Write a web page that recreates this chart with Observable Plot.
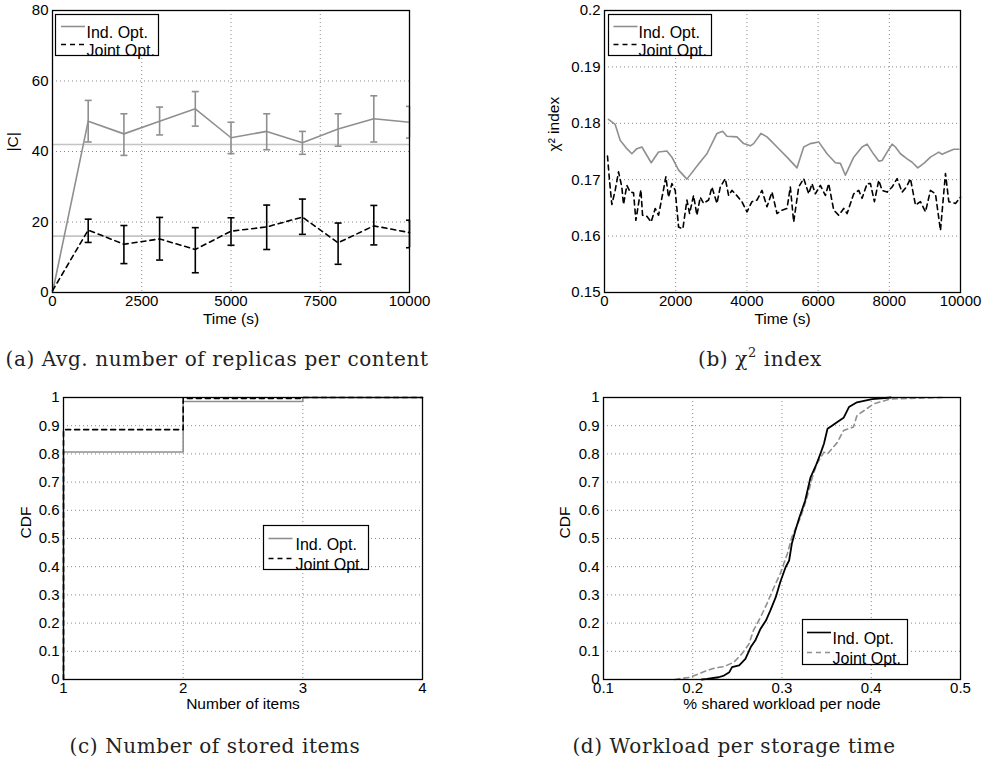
<!DOCTYPE html>
<html><head><meta charset="utf-8">
<script src="https://cdn.jsdelivr.net/npm/d3@7"></script>
<script src="https://cdn.jsdelivr.net/npm/@observablehq/plot@0.6"></script>
<style>
body{margin:0;background:#fff;}
#fig{position:relative;width:985px;height:764px;overflow:hidden;background:#fff}
.panel{position:absolute}
.cap{position:absolute;font-family:"DejaVu Serif",serif;font-size:20px;letter-spacing:0.6px;color:#222;white-space:nowrap;transform:translate(-50%,-50%)}
.cap sup{font-size:13px;vertical-align:9px;line-height:0}
</style></head><body><div id="fig"></div>
<script>
// ---------- DATA ----------
const seriesNames = ["Ind. Opt.", "Joint Opt."];
// (a) Avg. number of replicas per content
const timeA = [0,1000,2000,3000,4000,5000,6000,7000,8000,9000,10000];
const indA = [0,48.6,45.0,48.6,52.1,43.9,45.7,42.5,46.4,49.3,48.3];
const jointA = [0.5,17.7,13.7,15.2,12.2,17.4,18.6,21.4,14.1,18.9,17.0];
const errTimeA = [1000,2000,3000,4000,5000,6000,7000,8000,9000,10000];
const indLoA = [42.7,38.9,44.7,47.2,39.4,40.5,39.2,41.5,42.7,43.8];
const indHiA = [54.5,50.7,52.6,57.0,48.3,50.7,45.7,50.7,55.8,52.8];
const jointLoA = [14.2,8.2,9.2,5.6,13.4,12.2,16.5,8.0,13.5,12.7];
const jointHiA = [20.8,19.0,21.3,18.4,21.2,24.8,26.5,19.7,24.7,20.5];
const refLevelsA = [42.0,16.0];
const xTicksA = [0,2500,5000,7500,10000];
const yTicksA = [0,20,40,60,80];
// (b) chi^2 index
const indBT = [112,300,440,628,768,909,1050,1312,1518,1752,1893,2081,2315,2643,2877,3065,3158,3318,3439,3720,3908,4096,4189,4395,4564,4705,4845,5126,5408,5595,5782,6017,6251,6485,6626,6767,7001,7235,7376,7563,7704,7797,7938,8079,8172,8313,8500,8641,8800,8969,9156,9391,9484,9625,9812,9953];
const indBV = [0.1807,0.1798,0.1770,0.1755,0.1746,0.1755,0.1758,0.1730,0.1749,0.1751,0.1740,0.1717,0.1701,0.1728,0.1746,0.1770,0.1782,0.1786,0.1777,0.1776,0.1764,0.1760,0.1764,0.1782,0.1776,0.1767,0.1758,0.1740,0.1721,0.1758,0.1764,0.1767,0.1746,0.1730,0.1729,0.1708,0.1740,0.1758,0.1763,0.1745,0.1733,0.1734,0.1749,0.1763,0.1758,0.1746,0.1737,0.1731,0.1721,0.1729,0.1740,0.1749,0.1745,0.1749,0.1754,0.1754];
const jointBT = [84,140,206,300,394,487,534,628,722,815,881,975,1022,1069,1190,1312,1424,1518,1659,1724,1799,1893,1987,2081,2202,2315,2390,2502,2596,2690,2783,2924,3018,3158,3252,3393,3486,3580,3674,3861,4002,4142,4283,4424,4564,4705,4845,4986,5126,5220,5314,5455,5595,5736,5829,5923,6064,6204,6298,6439,6579,6720,6814,7001,7142,7235,7376,7470,7582,7704,7797,7938,8079,8219,8360,8482,8594,8735,8875,9016,9156,9297,9437,9578,9672,9859,10000];
const jointBV = [0.1742,0.1699,0.1656,0.1681,0.1714,0.1687,0.1656,0.1690,0.1678,0.1677,0.1628,0.1665,0.1682,0.1637,0.1635,0.1625,0.1649,0.1637,0.1683,0.1705,0.1669,0.1693,0.1681,0.1616,0.1613,0.1664,0.1640,0.1672,0.1637,0.1669,0.1658,0.1664,0.1687,0.1658,0.1687,0.1702,0.1672,0.1681,0.1675,0.1661,0.1643,0.1661,0.1664,0.1681,0.1652,0.1678,0.1640,0.1646,0.1649,0.1687,0.1625,0.1687,0.1702,0.1675,0.1693,0.1675,0.1690,0.1672,0.1693,0.1646,0.1637,0.1649,0.1640,0.1675,0.1681,0.1667,0.1693,0.1693,0.1661,0.1699,0.1681,0.1678,0.1687,0.1702,0.1678,0.1687,0.1702,0.1655,0.1661,0.1643,0.1681,0.1675,0.1610,0.1711,0.1661,0.1658,0.1669];
const xTicksB = [0,2000,4000,6000,8000,10000];
const yTicksB = [0.15,0.16,0.17,0.18,0.19,0.2];
// (c) Number of stored items (CDF)
const itemsC = [1,1,2,3,4];
const indC = [0,0.807,0.986,1,1];
const jointC = [0,0.886,0.997,1,1];
const xTicksC = [1,2,3,4];
const yTicksCDF = [0,0.1,0.2,0.3,0.4,0.5,0.6,0.7,0.8,0.9,1];
// (d) Workload per storage time (CDF)
const indDX = [0.21,0.216,0.229,0.235,0.241,0.244,0.252,0.259,0.265,0.270,0.276,0.282,0.287,0.293,0.298,0.304,0.308,0.311,0.315,0.319,0.326,0.332,0.338,0.343,0.347,0.351,0.356,0.360,0.369,0.375,0.384,0.401,0.422];
const indDY = [0,0.002,0.008,0.014,0.026,0.044,0.050,0.073,0.115,0.138,0.180,0.209,0.245,0.292,0.345,0.398,0.422,0.481,0.528,0.570,0.635,0.717,0.759,0.800,0.836,0.889,0.900,0.909,0.928,0.966,0.983,0.994,1.0];
const jointDX = [0.18,0.183,0.197,0.205,0.216,0.224,0.235,0.246,0.255,0.263,0.268,0.276,0.283,0.291,0.298,0.306,0.311,0.321,0.328,0.334,0.339,0.347,0.351,0.362,0.369,0.380,0.384,0.403,0.422,0.481];
const jointDY = [0,0.002,0.008,0.018,0.032,0.040,0.046,0.061,0.091,0.126,0.174,0.221,0.268,0.327,0.375,0.446,0.505,0.576,0.646,0.717,0.765,0.806,0.800,0.841,0.883,0.895,0.936,0.978,0.995,1.0];
const xTicksD = [0.1,0.2,0.3,0.4,0.5];

const axisLabels = {a: ["Time (s)", "|C|"], b: ["Time (s)", "χ² index"], c: ["Number of items", "CDF"], d: ["% shared workload per node", "CDF"]};
const captions = {a: "(a) Avg. number of replicas per content", b: "(b) χ<sup>2</sup> index", c: "(c) Number of stored items", d: "(d) Workload per storage time"};

// ---------- HELPERS ----------
const FONT = "Liberation Sans, Arial, Helvetica, sans-serif";
const GRAY = "#8f8f8f";
const DASH = "5,4";
const FS = 15;
const lineSym = {draw(ctx, size){ const r = Math.sqrt(size/Math.PI); ctx.moveTo(-r,0); ctx.lineTo(r,0); }};
const zip = (xs, ys) => xs.map((x,i) => ({x, y: ys[i]}));
const fig = document.getElementById("fig");
const fmt = d => String(d);

function gridMarks(xt, yt) {
  const g = {stroke: "#8a8a8a", strokeDasharray: "1,3", strokeWidth: 1};
  return [Plot.ruleX(xt, g), Plot.ruleY(yt, g)];
}
function axes(xt, yt, xpad) {
  return [
    Plot.axisX(xt, {tickSize: 0, tickPadding: xpad, tickFormat: fmt, fontSize: FS, label: null, fill: "black"}),
    Plot.axisY(yt, {tickSize: 0, tickPadding: 4, tickFormat: fmt, fontSize: FS, label: null, fill: "black"})
  ];
}
function legend(ins, rows) {
  const m = [Plot.frame({fill: "white", stroke: "black", strokeWidth: 1.2, ...ins})];
  rows.forEach(r => {
    m.push(Plot.dot([0], {frameAnchor: "top-left", dx: r.sx, dy: r.dy, symbol: lineSym, r: 12, fill: "none", stroke: r.stroke, strokeWidth: 1.6, strokeDasharray: r.dash}));
    m.push(Plot.text([r.label], {frameAnchor: "top-left", dx: r.tx, dy: r.dy, text: d => d, textAnchor: "start", fontSize: 16, fill: "black"}));
  });
  return m;
}
function axisTitles(lbl, xdy, ydx) {
  return [
    Plot.text([lbl[0]], {frameAnchor: "bottom", dy: xdy, text: d => d, fontSize: 15.5, fill: "black"}),
    Plot.text([lbl[1]], {frameAnchor: "left", dx: ydx, rotate: -90, text: d => d, fontSize: 15.5, fill: "black"})
  ];
}
function place(svg, left, top) {
  const d = document.createElement("div");
  d.className = "panel"; d.style.left = left + "px"; d.style.top = top + "px";
  d.appendChild(svg); fig.appendChild(d);
}
function caption(html, cx, cy) {
  const d = document.createElement("div");
  d.className = "cap"; d.innerHTML = html; d.style.left = cx + "px"; d.style.top = cy + "px";
  fig.appendChild(d);
}
const baseStyle = {fontFamily: FONT, fontSize: "15px", color: "black", background: "transparent", overflow: "visible"};

// ---------- (a) ----------
const lineIndA = zip(timeA, indA), lineJointA = zip(timeA, jointA);
const errIndA = errTimeA.map((t,i) => ({t, lo: indLoA[i], hi: indHiA[i]}));
const errJointA = errTimeA.map((t,i) => ({t, lo: jointLoA[i], hi: jointHiA[i]}));
const pa = Plot.plot({
  width: 480, height: 335, marginLeft: 52, marginRight: 71, marginTop: 10, marginBottom: 43,
  style: baseStyle,
  x: {domain: [0,10000]},
  y: {domain: [0,80]},
  marks: [
    ...gridMarks(xTicksA, yTicksA),
    ...axes(xTicksA, yTicksA, 3),
    Plot.ruleY(refLevelsA, {stroke: "#c4c4c4", strokeWidth: 1.6}),
    Plot.line(lineIndA, {x: "x", y: "y", stroke: GRAY, strokeWidth: 1.6}),
    Plot.ruleX(errIndA, {x: "t", y1: "lo", y2: "hi", stroke: GRAY, strokeWidth: 1.6}),
    Plot.dot(errIndA, {x: "t", y: "lo", symbol: lineSym, r: 3.5, fill: "none", stroke: GRAY, strokeWidth: 1.6, clip: true}),
    Plot.dot(errIndA, {x: "t", y: "hi", symbol: lineSym, r: 3.5, fill: "none", stroke: GRAY, strokeWidth: 1.6, clip: true}),
    Plot.line(lineJointA, {x: "x", y: "y", stroke: "black", strokeWidth: 1.6, strokeDasharray: DASH}),
    Plot.ruleX(errJointA, {x: "t", y1: "lo", y2: "hi", stroke: "black", strokeWidth: 1.6}),
    Plot.dot(errJointA, {x: "t", y: "lo", symbol: lineSym, r: 3.5, fill: "none", stroke: "black", strokeWidth: 1.6, clip: true}),
    Plot.dot(errJointA, {x: "t", y: "hi", symbol: lineSym, r: 3.5, fill: "none", stroke: "black", strokeWidth: 1.6, clip: true}),
    ...legend({insetLeft: 3, insetTop: 4, insetRight: 251, insetBottom: 237}, [
      {label: seriesNames[0], stroke: GRAY, dash: null, sx: 20.5, tx: 34, dy: 16},
      {label: seriesNames[1], stroke: "black", dash: DASH, sx: 20.5, tx: 34, dy: 34}
    ]),
    ...axisTitles(axisLabels.a, 31, -39),
    Plot.frame({stroke: "black", strokeWidth: 1.3})
  ]
});
place(pa, 0, 0);

// ---------- (b) ----------
const pb = Plot.plot({
  width: 495, height: 335, marginLeft: 114, marginRight: 25, marginTop: 10, marginBottom: 43,
  style: baseStyle,
  x: {domain: [0,10000]},
  y: {domain: [0.15,0.2]},
  marks: [
    ...gridMarks(xTicksB, yTicksB),
    ...axes(xTicksB, yTicksB, 3),
    Plot.line(zip(indBT, indBV), {x: "x", y: "y", stroke: GRAY, strokeWidth: 1.6}),
    Plot.line(zip(jointBT, jointBV), {x: "x", y: "y", stroke: "black", strokeWidth: 1.6, strokeDasharray: DASH}),
    ...legend({insetLeft: 4, insetTop: 4, insetRight: 249, insetBottom: 237}, [
      {label: seriesNames[0], stroke: GRAY, dash: null, sx: 21, tx: 34, dy: 16},
      {label: seriesNames[1], stroke: "black", dash: DASH, sx: 21, tx: 34, dy: 34}
    ]),
    ...axisTitles(axisLabels.b, 31, -50),
    Plot.frame({stroke: "black", strokeWidth: 1.3})
  ]
});
place(pb, 490, 0);

// ---------- (c) ----------
const pc = Plot.plot({
  width: 480, height: 340, marginLeft: 63, marginRight: 58, marginTop: 17, marginBottom: 41,
  style: baseStyle,
  x: {domain: [1,4]},
  y: {domain: [0,1]},
  marks: [
    ...gridMarks(xTicksC, yTicksCDF),
    ...axes(xTicksC, yTicksCDF, 3),
    Plot.line(zip(itemsC, indC), {x: "x", y: "y", curve: "step-after", stroke: GRAY, strokeWidth: 1.6}),
    Plot.line(zip(itemsC, jointC), {x: "x", y: "y", curve: "step-after", stroke: "black", strokeWidth: 1.6, strokeDasharray: DASH}),
    ...legend({insetLeft: 200, insetTop: 128, insetRight: 54, insetBottom: 110}, [
      {label: seriesNames[0], stroke: GRAY, dash: null, sx: 217, tx: 232, dy: 141},
      {label: seriesNames[1], stroke: "black", dash: DASH, sx: 217, tx: 232, dy: 161}
    ]),
    ...axisTitles(axisLabels.c, 29, -37),
    Plot.frame({stroke: "black", strokeWidth: 1.3})
  ]
});
place(pc, 0, 380);

// ---------- (d) ----------
const pd = Plot.plot({
  width: 495, height: 340, marginLeft: 113, marginRight: 25, marginTop: 17, marginBottom: 41,
  style: baseStyle,
  x: {domain: [0.1,0.5]},
  y: {domain: [0,1]},
  marks: [
    ...gridMarks(xTicksD, yTicksCDF),
    ...axes(xTicksD, yTicksCDF, 3),
    Plot.line(zip(jointDX, jointDY), {x: "x", y: "y", stroke: GRAY, strokeWidth: 1.6, strokeDasharray: DASH}),
    Plot.line(zip(indDX, indDY), {x: "x", y: "y", stroke: "black", strokeWidth: 1.8}),
    ...legend({insetLeft: 199, insetTop: 222, insetRight: 53, insetBottom: 15}, [
      {label: seriesNames[0], stroke: "black", dash: null, sx: 215.5, tx: 229, dy: 235},
      {label: seriesNames[1], stroke: GRAY, dash: DASH, sx: 215.5, tx: 229, dy: 255}
    ]),
    ...axisTitles(axisLabels.d, 29, -38),
    Plot.frame({stroke: "black", strokeWidth: 1.3})
  ]
});
place(pd, 490, 380);

// ---------- captions ----------
caption(captions.a, 217, 359);
caption(captions.b, 760, 359);
caption(captions.c, 215, 746);
caption(captions.d, 734, 746);
</script></body></html>
